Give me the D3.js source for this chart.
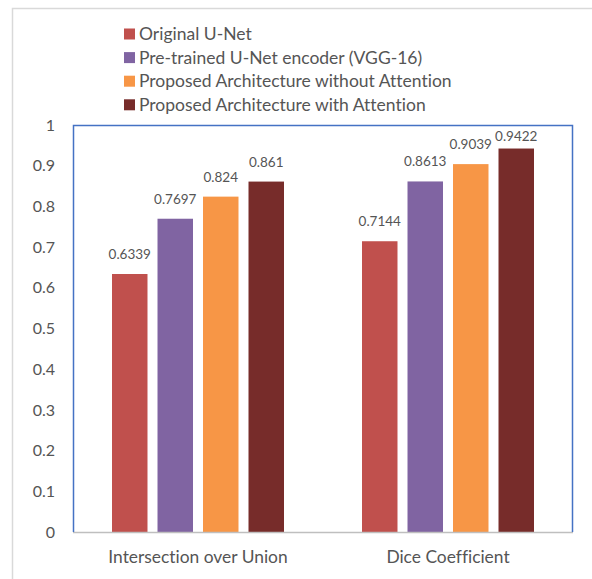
<!DOCTYPE html>
<html>
<head>
<meta charset="utf-8">
<script src="https://cdn.jsdelivr.net/npm/d3@7"></script>
<style>
  body { margin: 0; background: #fff; }
  text { font-family: Lato, "Open Sans", sans-serif; fill: #555; font-variant-ligatures: none; }
</style>
</head>
<body>
<script>
var categories = ["Intersection over Union", "Dice Coefficient"];
var seriesNames = [
    "Original U-Net",
    "Pre-trained U-Net encoder (VGG-16)",
    "Proposed Architecture without Attention",
    "Proposed Architecture with Attention"
];
var seriesValues = [
    [0.6339, 0.7144],
    [0.7697, 0.8613],
    [0.824, 0.9039],
    [0.861, 0.9422]
];
var seriesColors = ["#c0504d", "#8064a2", "#f79646", "#772c2a"];
var yTicks = [0, 0.1, 0.2, 0.3, 0.4, 0.5, 0.6, 0.7, 0.8, 0.9, 1];

var W = 592, H = 579;
var margin = { top: 125, right: 19, bottom: 47, left: 73 };
var width = W - margin.left - margin.right;
var height = H - margin.top - margin.bottom;

var svg = d3.select("body")
    .append("svg")
    .attr("width", W)
    .attr("height", H);

// outer chart frame (cut off at right/bottom)
svg.append("rect")
    .attr("x", 12.5)
    .attr("y", 8.5)
    .attr("width", W)
    .attr("height", H)
    .attr("fill", "none")
    .attr("stroke", "#d9d9d9")
    .attr("stroke-width", 1.5);

// legend
var legend = svg.append("g").attr("transform", "translate(124,34)");
var items = legend.selectAll(".leg")
    .data(seriesNames)
    .enter()
    .append("g")
    .attr("class", "leg")
    .attr("transform", function(d, i) { return "translate(0," + (i * 23.6) + ")"; });
items.append("rect")
    .attr("x", 0)
    .attr("y", -5.5)
    .attr("width", 11)
    .attr("height", 11)
    .attr("fill", function(d, i) { return seriesColors[i]; });
items.append("text")
    .attr("x", 15)
    .attr("dy", "0.35em")
    .style("font-size", "17.5px")
    .text(function(d) { return d; });

var g = svg.append("g")
    .attr("transform", "translate(" + margin.left + "," + margin.top + ")");

var x0 = d3.scaleBand()
    .domain(categories)
    .range([0, width])
    .padding(0);

var groupW = 172;
var x1 = d3.scaleBand()
    .domain(d3.range(seriesNames.length))
    .range([(x0.bandwidth() - groupW) / 2, (x0.bandwidth() + groupW) / 2])
    .paddingInner(0.22)
    .paddingOuter(0);

var y = d3.scaleLinear()
    .domain([0, 1])
    .range([height, 0]);

// y axis labels
var yAxis = g.append("g")
    .call(d3.axisLeft(y).tickValues(yTicks).tickSize(0).tickPadding(18)
        .tickFormat(function(d) { return d3.format("")(+d.toFixed(1)); }));
yAxis.select(".domain").remove();
yAxis.selectAll("text")
    .style("font-size", "16px")
    .style("font-family", "Lato, sans-serif")
    .attr("fill", "#555");

// bars
var groups = g.selectAll(".grp")
    .data(categories)
    .enter()
    .append("g")
    .attr("class", "grp")
    .attr("transform", function(d) { return "translate(" + x0(d) + ",0)"; });

groups.selectAll("rect")
    .data(function(d, ci) {
        return seriesValues.map(function(vals, si) { return { s: si, v: vals[ci] }; });
    })
    .enter()
    .append("rect")
    .attr("x", function(d) { return x1(d.s); })
    .attr("y", function(d) { return y(d.v); })
    .attr("width", x1.bandwidth())
    .attr("height", function(d) { return height - y(d.v); })
    .attr("fill", function(d) { return seriesColors[d.s]; });

// data labels (kept inside the plot area like Excel does)
groups.selectAll(".lbl")
    .data(function(d, ci) {
        return seriesValues.map(function(vals, si) { return { s: si, v: vals[ci] }; });
    })
    .enter()
    .append("text")
    .attr("class", "lbl")
    .attr("text-anchor", "middle")
    .attr("x", function(d) { return x1(d.s) + x1.bandwidth() / 2; })
    .attr("y", function(d) { return Math.max(y(d.v) - 15, 16); })
    .style("font-size", "13.5px")
    .text(function(d) { return d.v; });

// x axis line
g.append("line")
    .attr("x1", 0)
    .attr("x2", width)
    .attr("y1", height + 0.5)
    .attr("y2", height + 0.5)
    .attr("stroke", "#bfbfbf")
    .attr("stroke-width", 1.5);

// plot area border (left, top, right)
g.append("path")
    .attr("d", "M0.5," + height + "V0.5H" + (width - 0.5) + "V" + height)
    .attr("fill", "none")
    .attr("stroke", "#4472c4")
    .attr("stroke-width", 1.5);

// category labels
g.selectAll(".cat")
    .data(categories)
    .enter()
    .append("text")
    .attr("class", "cat")
    .attr("text-anchor", "middle")
    .attr("x", function(d) { return x0(d) + x0.bandwidth() / 2; })
    .attr("y", height + 31)
    .style("font-size", "17.4px")
    .text(function(d) { return d; });
</script>
</body>
</html>
